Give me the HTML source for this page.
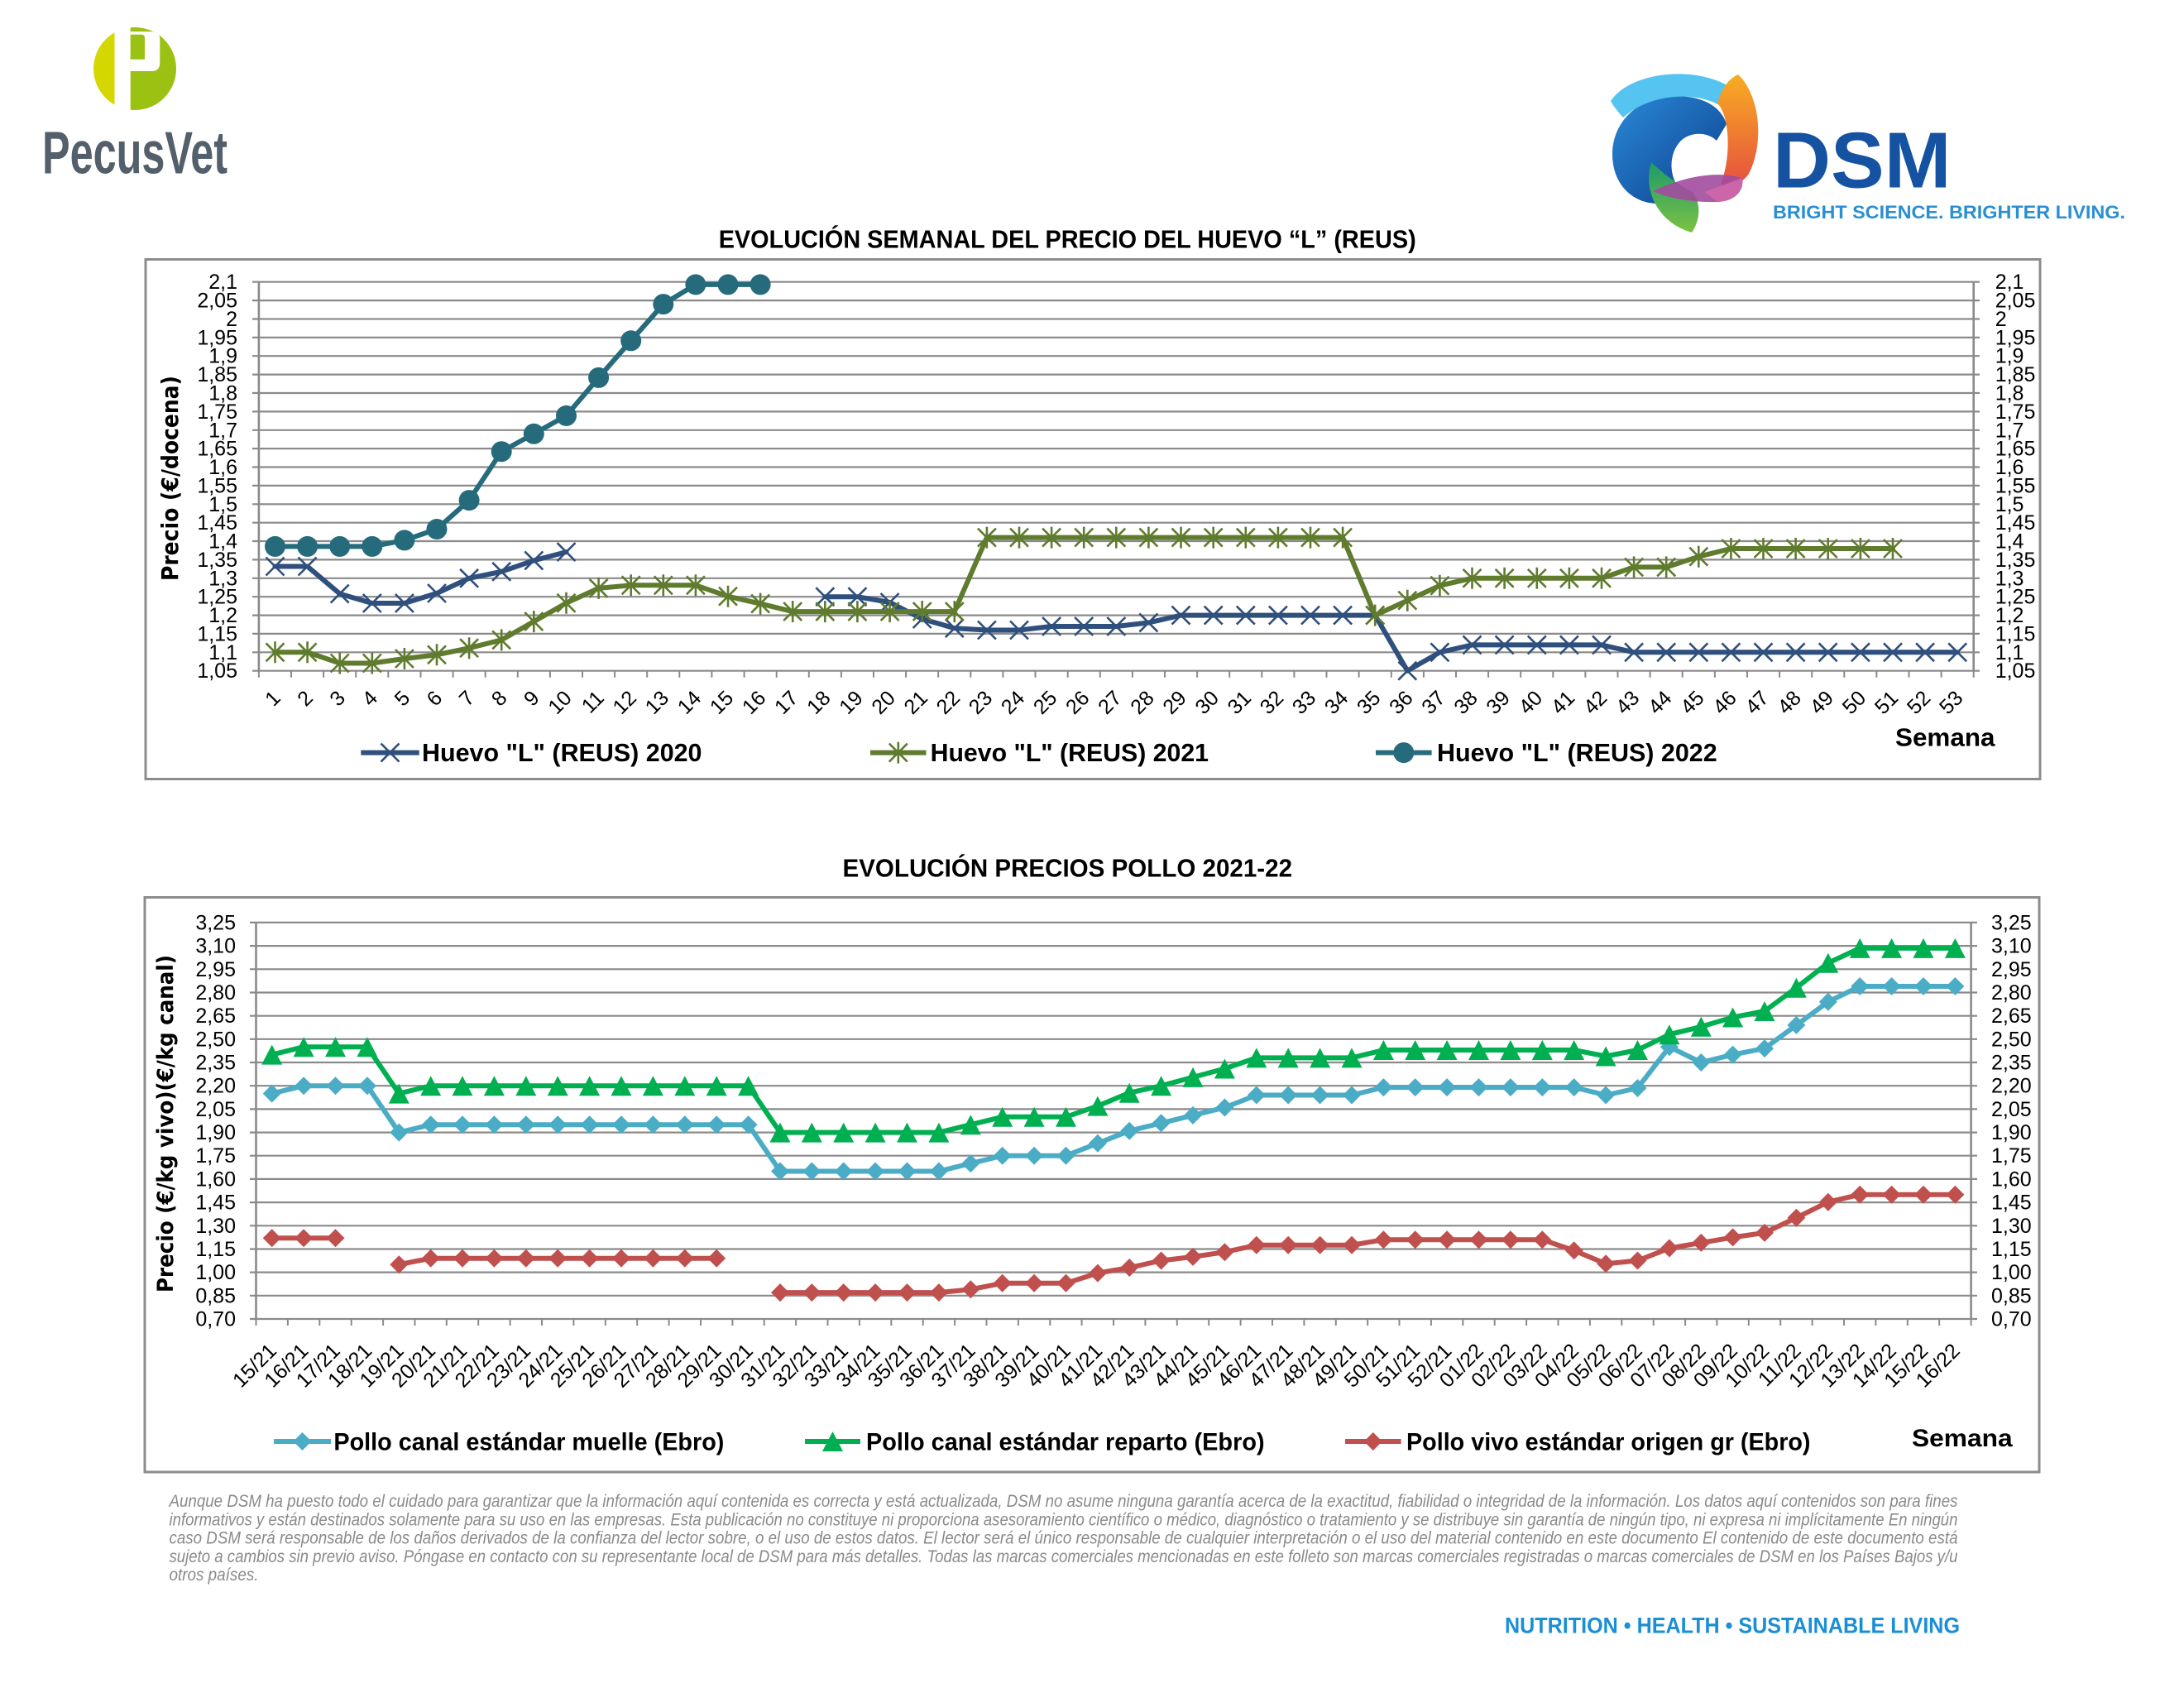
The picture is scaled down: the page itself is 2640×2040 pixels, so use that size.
<!DOCTYPE html>
<html>
<head>
<meta charset="utf-8">
<style>
html,body{margin:0;padding:0;background:#fff;}
svg{display:block;}
</style>
</head>
<body>
<svg xmlns="http://www.w3.org/2000/svg" width="2640" height="2040" viewBox="0 0 2640 2040">
<defs>
<marker id="mkX" markerUnits="userSpaceOnUse" markerWidth="30" markerHeight="30" refX="15" refY="15" viewBox="0 0 30 30" orient="0" overflow="visible"><path d="M4,4L26,26M4,26L26,4" stroke="#2f4f7d" stroke-width="2.6" fill="none"/></marker>
<marker id="mkA" markerUnits="userSpaceOnUse" markerWidth="30" markerHeight="30" refX="15" refY="15" viewBox="0 0 30 30" orient="0" overflow="visible"><path d="M4,4L26,26M4,26L26,4M15,2V28" stroke="#5f7b2d" stroke-width="2.6" fill="none"/></marker>
<marker id="mkC" markerUnits="userSpaceOnUse" markerWidth="30" markerHeight="30" refX="15" refY="15" viewBox="0 0 30 30" orient="0" overflow="visible"><circle cx="15" cy="15" r="12.5" fill="#266b7c"/></marker>
<marker id="mkD1" markerUnits="userSpaceOnUse" markerWidth="30" markerHeight="30" refX="15" refY="15" viewBox="0 0 30 30" orient="0" overflow="visible"><path d="M15,4L26,15L15,26L4,15Z" fill="#4bacc6"/></marker>
<marker id="mkT" markerUnits="userSpaceOnUse" markerWidth="30" markerHeight="30" refX="15" refY="15" viewBox="0 0 30 30" orient="0" overflow="visible"><path d="M15,3L27.5,27H2.5Z" fill="#00b050"/></marker>
<marker id="mkD2" markerUnits="userSpaceOnUse" markerWidth="30" markerHeight="30" refX="15" refY="15" viewBox="0 0 30 30" orient="0" overflow="visible"><path d="M15,4L26,15L15,26L4,15Z" fill="#c0504d"/></marker>
<clipPath id="pcClip"><circle cx="163" cy="83" r="50"/></clipPath>
<linearGradient id="gOr" x1="0" y1="0" x2="0" y2="1"><stop offset="0" stop-color="#f8ad22"/><stop offset="1" stop-color="#e6503f"/></linearGradient>
<linearGradient id="gBl" x1="0" y1="0" x2="1" y2="1"><stop offset="0" stop-color="#2a8ad8"/><stop offset="1" stop-color="#0c3f8c"/></linearGradient>
<linearGradient id="gGr" x1="0" y1="0" x2="0" y2="1"><stop offset="0" stop-color="#1c9a6a"/><stop offset="1" stop-color="#7cc242"/></linearGradient>
</defs>

<!-- PecusVet logo -->
<g clip-path="url(#pcClip)">
<rect x="110" y="30" width="28.5" height="110" fill="#d4d800"/>
<rect x="157.7" y="30" width="62" height="110" fill="#9bc112"/>
<path d="M157.7,38.3H184Q193.3,38.3 193.3,48V76Q193.3,86 183,86H157.7Z" fill="#fff"/>
<path d="M157.7,41.7H171Q175,41.7 175,46V71.7H157.7Z" fill="#9bc112"/>
</g>
<text x="51" y="209.3" font-family="Liberation Sans Narrow, Liberation Sans, sans-serif" font-weight="bold" font-size="72" fill="#535f6b" textLength="224" lengthAdjust="spacingAndGlyphs">PecusVet</text>

<!-- DSM logo -->
<path d="M2030,116C1985,113 1949,145 1949,186C1949,224 1975,247 2006,246L2030,228C2017,212 2017,185 2032,170C2045,158 2065,160 2075,170L2087,150C2080,128 2058,117 2030,116Z" fill="url(#gBl)"/>
<path d="M1947,122C1968,90 2038,78 2086,102L2086,132C2058,110 1998,110 1962,142C1955,134 1950,128 1947,122Z" fill="#55c4f0"/>
<path d="M2101,90C2126,113 2134,170 2114,210C2103,225 2090,228 2080,222C2093,190 2091,140 2076,125C2081,106 2090,95 2101,90Z" fill="url(#gOr)"/>
<path d="M1996,196C1985,232 2006,270 2045,281C2056,265 2056,245 2046,232C2031,225 2013,212 1996,196Z" fill="url(#gGr)"/>
<path d="M1998,231C2030,216 2070,205 2106,215C2109,231 2096,244 2075,244C2050,245 2020,241 1998,231Z" fill="#a24b9f" opacity="0.9"/>
<path d="M2060,232C2080,225 2098,218 2106,215C2108,230 2096,243 2076,244Z" fill="#d067a8" opacity="0.9"/>
<ellipse cx="2048" cy="191" rx="18" ry="22" fill="#fff"/>
<text x="2143" y="226.7" font-family="Liberation Sans, sans-serif" font-weight="bold" font-size="96" fill="#1553a2" textLength="215.5" lengthAdjust="spacingAndGlyphs">DSM</text>
<text x="2143" y="264" font-family="Liberation Sans Narrow, Liberation Sans, sans-serif" font-weight="bold" font-size="22" fill="#2a8fd2" textLength="426" lengthAdjust="spacingAndGlyphs">BRIGHT SCIENCE. BRIGHTER LIVING.</text>

<!-- ============ TOP CHART ============ -->
<text x="868.7" y="299.5" font-family="Liberation Sans Narrow, Liberation Sans, sans-serif" font-weight="bold" font-size="31" fill="#000" textLength="843" lengthAdjust="spacingAndGlyphs">EVOLUCIÓN SEMANAL DEL PRECIO DEL HUEVO “L” (REUS)</text>
<rect x="176" y="313.5" width="2290" height="628" fill="none" stroke="#8c8c8c" stroke-width="3"/>

<path fill="none" stroke="#8a8a8a" stroke-width="2.2" d="M305,340.7H2393M305,363.1H2393M305,385.5H2393M305,407.9H2393M305,430.2H2393M305,452.6H2393M305,475H2393M305,497.4H2393M305,519.8H2393M305,542.1H2393M305,564.5H2393M305,586.9H2393M305,609.3H2393M305,631.7H2393M305,654H2393M305,676.4H2393M305,698.8H2393M305,721.2H2393M305,743.6H2393M305,765.9H2393M305,788.3H2393M305,810.7H2393"/>
<path fill="none" stroke="#8a8a8a" stroke-width="2.6" d="M312.9,340.7V810.7M2385.7,340.7V810.7"/>
<path fill="none" stroke="#8a8a8a" stroke-width="2" d="M312.9,810.7v8M352,810.7v8M391.1,810.7v8M430.2,810.7v8M469.3,810.7v8M508.5,810.7v8M547.6,810.7v8M586.7,810.7v8M625.8,810.7v8M664.9,810.7v8M704,810.7v8M743.1,810.7v8M782.2,810.7v8M821.3,810.7v8M860.4,810.7v8M899.6,810.7v8M938.7,810.7v8M977.8,810.7v8M1016.9,810.7v8M1056,810.7v8M1095.1,810.7v8M1134.2,810.7v8M1173.3,810.7v8M1212.4,810.7v8M1251.5,810.7v8M1290.7,810.7v8M1329.8,810.7v8M1368.9,810.7v8M1408,810.7v8M1447.1,810.7v8M1486.2,810.7v8M1525.3,810.7v8M1564.4,810.7v8M1603.5,810.7v8M1642.6,810.7v8M1681.8,810.7v8M1720.9,810.7v8M1760,810.7v8M1799.1,810.7v8M1838.2,810.7v8M1877.3,810.7v8M1916.4,810.7v8M1955.5,810.7v8M1994.6,810.7v8M2033.7,810.7v8M2072.9,810.7v8M2112,810.7v8M2151.1,810.7v8M2190.2,810.7v8M2229.3,810.7v8M2268.4,810.7v8M2307.5,810.7v8M2346.6,810.7v8M2385.7,810.7v8"/>

<g font-family="Liberation Sans, sans-serif" font-size="25" fill="#000" text-anchor="end">
<text x="287" y="349.2">2,1</text><text x="287" y="371.6">2,05</text><text x="287" y="394">2</text><text x="287" y="416.4">1,95</text><text x="287" y="438.7">1,9</text><text x="287" y="461.1">1,85</text><text x="287" y="483.5">1,8</text><text x="287" y="505.9">1,75</text><text x="287" y="528.3">1,7</text><text x="287" y="550.6">1,65</text><text x="287" y="573">1,6</text><text x="287" y="595.4">1,55</text><text x="287" y="617.8">1,5</text><text x="287" y="640.2">1,45</text><text x="287" y="662.5">1,4</text><text x="287" y="684.9">1,35</text><text x="287" y="707.3">1,3</text><text x="287" y="729.7">1,25</text><text x="287" y="752.1">1,2</text><text x="287" y="774.4">1,15</text><text x="287" y="796.8">1,1</text><text x="287" y="819.2">1,05</text>
</g>
<g font-family="Liberation Sans, sans-serif" font-size="25" fill="#000" text-anchor="start">
<text x="2411.7" y="349.2">2,1</text><text x="2411.7" y="371.6">2,05</text><text x="2411.7" y="394">2</text><text x="2411.7" y="416.4">1,95</text><text x="2411.7" y="438.7">1,9</text><text x="2411.7" y="461.1">1,85</text><text x="2411.7" y="483.5">1,8</text><text x="2411.7" y="505.9">1,75</text><text x="2411.7" y="528.3">1,7</text><text x="2411.7" y="550.6">1,65</text><text x="2411.7" y="573">1,6</text><text x="2411.7" y="595.4">1,55</text><text x="2411.7" y="617.8">1,5</text><text x="2411.7" y="640.2">1,45</text><text x="2411.7" y="662.5">1,4</text><text x="2411.7" y="684.9">1,35</text><text x="2411.7" y="707.3">1,3</text><text x="2411.7" y="729.7">1,25</text><text x="2411.7" y="752.1">1,2</text><text x="2411.7" y="774.4">1,15</text><text x="2411.7" y="796.8">1,1</text><text x="2411.7" y="819.2">1,05</text>
</g>

<g font-family="Liberation Sans, sans-serif" font-size="25" fill="#000" text-anchor="end">
<text transform="translate(340.5,845) rotate(-45)">1</text><text transform="translate(379.6,845) rotate(-45)">2</text><text transform="translate(418.7,845) rotate(-45)">3</text><text transform="translate(457.8,845) rotate(-45)">4</text><text transform="translate(496.9,845) rotate(-45)">5</text><text transform="translate(536,845) rotate(-45)">6</text><text transform="translate(575.1,845) rotate(-45)">7</text><text transform="translate(614.2,845) rotate(-45)">8</text><text transform="translate(653.3,845) rotate(-45)">9</text><text transform="translate(692.5,845) rotate(-45)">10</text><text transform="translate(731.6,845) rotate(-45)">11</text><text transform="translate(770.7,845) rotate(-45)">12</text><text transform="translate(809.8,845) rotate(-45)">13</text><text transform="translate(848.9,845) rotate(-45)">14</text><text transform="translate(888,845) rotate(-45)">15</text><text transform="translate(927.1,845) rotate(-45)">16</text><text transform="translate(966.2,845) rotate(-45)">17</text><text transform="translate(1005.3,845) rotate(-45)">18</text><text transform="translate(1044.4,845) rotate(-45)">19</text><text transform="translate(1083.6,845) rotate(-45)">20</text><text transform="translate(1122.7,845) rotate(-45)">21</text><text transform="translate(1161.8,845) rotate(-45)">22</text><text transform="translate(1200.9,845) rotate(-45)">23</text><text transform="translate(1240,845) rotate(-45)">24</text><text transform="translate(1279.1,845) rotate(-45)">25</text><text transform="translate(1318.2,845) rotate(-45)">26</text><text transform="translate(1357.3,845) rotate(-45)">27</text><text transform="translate(1396.4,845) rotate(-45)">28</text><text transform="translate(1435.5,845) rotate(-45)">29</text><text transform="translate(1474.7,845) rotate(-45)">30</text><text transform="translate(1513.8,845) rotate(-45)">31</text><text transform="translate(1552.9,845) rotate(-45)">32</text><text transform="translate(1592,845) rotate(-45)">33</text><text transform="translate(1631.1,845) rotate(-45)">34</text><text transform="translate(1670.2,845) rotate(-45)">35</text><text transform="translate(1709.3,845) rotate(-45)">36</text><text transform="translate(1748.4,845) rotate(-45)">37</text><text transform="translate(1787.5,845) rotate(-45)">38</text><text transform="translate(1826.6,845) rotate(-45)">39</text><text transform="translate(1865.8,845) rotate(-45)">40</text><text transform="translate(1904.9,845) rotate(-45)">41</text><text transform="translate(1944,845) rotate(-45)">42</text><text transform="translate(1983.1,845) rotate(-45)">43</text><text transform="translate(2022.2,845) rotate(-45)">44</text><text transform="translate(2061.3,845) rotate(-45)">45</text><text transform="translate(2100.4,845) rotate(-45)">46</text><text transform="translate(2139.5,845) rotate(-45)">47</text><text transform="translate(2178.6,845) rotate(-45)">48</text><text transform="translate(2217.7,845) rotate(-45)">49</text><text transform="translate(2256.9,845) rotate(-45)">50</text><text transform="translate(2296,845) rotate(-45)">51</text><text transform="translate(2335.1,845) rotate(-45)">52</text><text transform="translate(2374.2,845) rotate(-45)">53</text>
</g>

<text transform="translate(215,578) rotate(-90)" text-anchor="middle" font-family="DejaVu Sans, Liberation Sans, sans-serif" font-weight="bold" font-size="28" fill="#000" textLength="248" lengthAdjust="spacingAndGlyphs">Precio (€/docena)</text>

<!-- series top -->
<g fill="none" stroke-width="6" stroke-linejoin="round" stroke-linecap="round">
<polyline stroke="#2f4f7d" marker-start="url(#mkX)" marker-mid="url(#mkX)" marker-end="url(#mkX)" points="332.5,684.5 371.6,684.5 410.7,717.6 449.8,729 488.9,729 528,717 567.1,698.8 606.2,690.8 645.3,677.4 684.5,667.1"/>
<polyline stroke="#2f4f7d" marker-start="url(#mkX)" marker-mid="url(#mkX)" marker-end="url(#mkX)" points="997.3,721.2 1036.4,721.2 1075.6,728 1114.7,748 1153.8,759.2 1192.9,761.5 1232,761.5 1271.1,757 1310.2,757 1349.3,757 1388.4,752.5 1427.5,743.6 1466.7,743.6 1505.8,743.6 1544.9,743.6 1584,743.6 1623.1,743.6 1662.2,743.6 1701.3,810.7 1740.4,788.3 1779.5,779.4 1818.6,779.4 1857.8,779.4 1896.9,779.4 1936,779.4 1975.1,788.3 2014.2,788.3 2053.3,788.3 2092.4,788.3 2131.5,788.3 2170.6,788.3 2209.7,788.3 2248.9,788.3 2288,788.3 2327.1,788.3 2366.2,788.3"/>
<polyline stroke="#5f7b2d" marker-start="url(#mkA)" marker-mid="url(#mkA)" marker-end="url(#mkA)" points="332.5,788.3 371.6,788.3 410.7,801.5 449.8,801.5 488.9,796 528,791.3 567.1,783.2 606.2,773.4 645.3,751.1 684.5,728.8 723.6,710.9 762.7,707.3 801.8,707.3 840.9,707.3 880,720.7 919.1,729.6 958.2,739.1 997.3,739.1 1036.4,739.1 1075.6,739.1 1114.7,739.1 1153.8,739.1 1192.9,649.6 1232,649.6 1271.1,649.6 1310.2,649.6 1349.3,649.6 1388.4,649.6 1427.5,649.6 1466.7,649.6 1505.8,649.6 1544.9,649.6 1584,649.6 1623.1,649.6 1662.2,743.6 1701.3,725.7 1740.4,707.7 1779.5,698.8 1818.6,698.8 1857.8,698.8 1896.9,698.8 1936,698.8 1975.1,685.4 2014.2,685.4 2053.3,672.7 2092.4,663 2131.5,663 2170.6,663 2209.7,663 2248.9,663 2288,663"/>
<polyline stroke="#266b7c" marker-start="url(#mkC)" marker-mid="url(#mkC)" marker-end="url(#mkC)" points="332.5,660.4 371.6,660.4 410.7,660.4 449.8,660.4 488.9,652.9 528,639.5 567.1,604.6 606.2,545.7 645.3,524.3 684.5,502.4 723.6,456.4 762.7,411.8 801.8,367.6 840.9,343.9 880,343.9 919.1,343.9"/>
</g>

<!-- legend top -->
<g fill="none" stroke-width="6">
<polyline stroke="#2f4f7d" marker-mid="url(#mkX)" points="436.3,909.6 471.5,909.6 506.7,909.6"/>
<polyline stroke="#5f7b2d" marker-mid="url(#mkA)" points="1052,909.6 1085.8,909.6 1119.5,909.6"/>
<polyline stroke="#266b7c" marker-mid="url(#mkC)" points="1663,909.6 1696.8,909.6 1730.6,909.6"/>
</g>
<g font-family="Liberation Sans Narrow, Liberation Sans, sans-serif" font-weight="bold" font-size="31" fill="#000">
<text x="510" y="919.8" textLength="338.5" lengthAdjust="spacingAndGlyphs">Huevo "L" (REUS) 2020</text>
<text x="1124.6" y="919.8" textLength="336.4" lengthAdjust="spacingAndGlyphs">Huevo "L" (REUS) 2021</text>
<text x="1737" y="919.8" textLength="338.7" lengthAdjust="spacingAndGlyphs">Huevo "L" (REUS) 2022</text>
<text x="2291" y="901.7" textLength="120.5" lengthAdjust="spacingAndGlyphs">Semana</text>
</g>

<!-- ============ BOTTOM CHART ============ -->
<text x="1018.5" y="1059.7" font-family="Liberation Sans Narrow, Liberation Sans, sans-serif" font-weight="bold" font-size="31" fill="#000" textLength="543.5" lengthAdjust="spacingAndGlyphs">EVOLUCIÓN PRECIOS POLLO 2021-22</text>
<rect x="175" y="1084.5" width="2290" height="694.5" fill="none" stroke="#8c8c8c" stroke-width="3"/>

<path fill="none" stroke="#8a8a8a" stroke-width="2.2" d="M302,1114.9H2390M302,1143.1H2390M302,1171.3H2390M302,1199.5H2390M302,1227.7H2390M302,1255.8H2390M302,1284H2390M302,1312.2H2390M302,1340.4H2390M302,1368.6H2390M302,1396.7H2390M302,1424.9H2390M302,1453.1H2390M302,1481.3H2390M302,1509.5H2390M302,1537.6H2390M302,1565.8H2390M302,1594H2390"/>
<path fill="none" stroke="#8a8a8a" stroke-width="2.6" d="M309.5,1114.9V1594M2382.6,1114.9V1594"/>
<path fill="none" stroke="#8a8a8a" stroke-width="2" d="M309.5,1594v8M347.9,1594v8M386.3,1594v8M424.7,1594v8M463.1,1594v8M501.5,1594v8M539.8,1594v8M578.2,1594v8M616.6,1594v8M655,1594v8M693.4,1594v8M731.8,1594v8M770.2,1594v8M808.6,1594v8M847,1594v8M885.4,1594v8M923.7,1594v8M962.1,1594v8M1000.5,1594v8M1038.9,1594v8M1077.3,1594v8M1115.7,1594v8M1154.1,1594v8M1192.5,1594v8M1230.9,1594v8M1269.3,1594v8M1307.6,1594v8M1346,1594v8M1384.4,1594v8M1422.8,1594v8M1461.2,1594v8M1499.6,1594v8M1538,1594v8M1576.4,1594v8M1614.8,1594v8M1653.2,1594v8M1691.5,1594v8M1729.9,1594v8M1768.3,1594v8M1806.7,1594v8M1845.1,1594v8M1883.5,1594v8M1921.9,1594v8M1960.3,1594v8M1998.7,1594v8M2037.1,1594v8M2075.4,1594v8M2113.8,1594v8M2152.2,1594v8M2190.6,1594v8M2229,1594v8M2267.4,1594v8M2305.8,1594v8M2344.2,1594v8M2382.6,1594v8"/>

<g font-family="Liberation Sans, sans-serif" font-size="25" fill="#000" text-anchor="end">
<text x="285" y="1123.4">3,25</text><text x="285" y="1151.6">3,10</text><text x="285" y="1179.8">2,95</text><text x="285" y="1208">2,80</text><text x="285" y="1236.2">2,65</text><text x="285" y="1264.3">2,50</text><text x="285" y="1292.5">2,35</text><text x="285" y="1320.7">2,20</text><text x="285" y="1348.9">2,05</text><text x="285" y="1377.1">1,90</text><text x="285" y="1405.2">1,75</text><text x="285" y="1433.4">1,60</text><text x="285" y="1461.6">1,45</text><text x="285" y="1489.8">1,30</text><text x="285" y="1518">1,15</text><text x="285" y="1546.1">1,00</text><text x="285" y="1574.3">0,85</text><text x="285" y="1602.5">0,70</text>
</g>
<g font-family="Liberation Sans, sans-serif" font-size="25" fill="#000" text-anchor="start">
<text x="2407" y="1123.4">3,25</text><text x="2407" y="1151.6">3,10</text><text x="2407" y="1179.8">2,95</text><text x="2407" y="1208">2,80</text><text x="2407" y="1236.2">2,65</text><text x="2407" y="1264.3">2,50</text><text x="2407" y="1292.5">2,35</text><text x="2407" y="1320.7">2,20</text><text x="2407" y="1348.9">2,05</text><text x="2407" y="1377.1">1,90</text><text x="2407" y="1405.2">1,75</text><text x="2407" y="1433.4">1,60</text><text x="2407" y="1461.6">1,45</text><text x="2407" y="1489.8">1,30</text><text x="2407" y="1518">1,15</text><text x="2407" y="1546.1">1,00</text><text x="2407" y="1574.3">0,85</text><text x="2407" y="1602.5">0,70</text>
</g>

<g font-family="Liberation Sans, sans-serif" font-size="25" fill="#000" text-anchor="end">
<text transform="translate(335.7,1634) rotate(-45)">15/21</text><text transform="translate(374.1,1634) rotate(-45)">16/21</text><text transform="translate(412.5,1634) rotate(-45)">17/21</text><text transform="translate(450.9,1634) rotate(-45)">18/21</text><text transform="translate(489.3,1634) rotate(-45)">19/21</text><text transform="translate(527.7,1634) rotate(-45)">20/21</text><text transform="translate(566,1634) rotate(-45)">21/21</text><text transform="translate(604.4,1634) rotate(-45)">22/21</text><text transform="translate(642.8,1634) rotate(-45)">23/21</text><text transform="translate(681.2,1634) rotate(-45)">24/21</text><text transform="translate(719.6,1634) rotate(-45)">25/21</text><text transform="translate(758,1634) rotate(-45)">26/21</text><text transform="translate(796.4,1634) rotate(-45)">27/21</text><text transform="translate(834.8,1634) rotate(-45)">28/21</text><text transform="translate(873.2,1634) rotate(-45)">29/21</text><text transform="translate(911.6,1634) rotate(-45)">30/21</text><text transform="translate(950,1634) rotate(-45)">31/21</text><text transform="translate(988.3,1634) rotate(-45)">32/21</text><text transform="translate(1026.7,1634) rotate(-45)">33/21</text><text transform="translate(1065.1,1634) rotate(-45)">34/21</text><text transform="translate(1103.5,1634) rotate(-45)">35/21</text><text transform="translate(1141.9,1634) rotate(-45)">36/21</text><text transform="translate(1180.3,1634) rotate(-45)">37/21</text><text transform="translate(1218.7,1634) rotate(-45)">38/21</text><text transform="translate(1257.1,1634) rotate(-45)">39/21</text><text transform="translate(1295.5,1634) rotate(-45)">40/21</text><text transform="translate(1333.9,1634) rotate(-45)">41/21</text><text transform="translate(1372.2,1634) rotate(-45)">42/21</text><text transform="translate(1410.6,1634) rotate(-45)">43/21</text><text transform="translate(1449,1634) rotate(-45)">44/21</text><text transform="translate(1487.4,1634) rotate(-45)">45/21</text><text transform="translate(1525.8,1634) rotate(-45)">46/21</text><text transform="translate(1564.2,1634) rotate(-45)">47/21</text><text transform="translate(1602.6,1634) rotate(-45)">48/21</text><text transform="translate(1641,1634) rotate(-45)">49/21</text><text transform="translate(1679.4,1634) rotate(-45)">50/21</text><text transform="translate(1717.7,1634) rotate(-45)">51/21</text><text transform="translate(1756.1,1634) rotate(-45)">52/21</text><text transform="translate(1794.5,1634) rotate(-45)">01/22</text><text transform="translate(1832.9,1634) rotate(-45)">02/22</text><text transform="translate(1871.3,1634) rotate(-45)">03/22</text><text transform="translate(1909.7,1634) rotate(-45)">04/22</text><text transform="translate(1948.1,1634) rotate(-45)">05/22</text><text transform="translate(1986.5,1634) rotate(-45)">06/22</text><text transform="translate(2024.9,1634) rotate(-45)">07/22</text><text transform="translate(2063.3,1634) rotate(-45)">08/22</text><text transform="translate(2101.6,1634) rotate(-45)">09/22</text><text transform="translate(2140,1634) rotate(-45)">10/22</text><text transform="translate(2178.4,1634) rotate(-45)">11/22</text><text transform="translate(2216.8,1634) rotate(-45)">12/22</text><text transform="translate(2255.2,1634) rotate(-45)">13/22</text><text transform="translate(2293.6,1634) rotate(-45)">14/22</text><text transform="translate(2332,1634) rotate(-45)">15/22</text><text transform="translate(2370.4,1634) rotate(-45)">16/22</text>
</g>

<text transform="translate(209,1358) rotate(-90)" text-anchor="middle" font-family="DejaVu Sans, Liberation Sans, sans-serif" font-weight="bold" font-size="27" fill="#000" textLength="408" lengthAdjust="spacingAndGlyphs">Precio (€/kg vivo)(€/kg canal)</text>

<!-- series bottom -->
<g fill="none" stroke-width="6" stroke-linejoin="round" stroke-linecap="round">
<polyline stroke="#4bacc6" marker-start="url(#mkD1)" marker-mid="url(#mkD1)" marker-end="url(#mkD1)" points="328.7,1321.6 367.1,1312.2 405.5,1312.2 443.9,1312.2 482.3,1368.6 520.7,1359.2 559,1359.2 597.4,1359.2 635.8,1359.2 674.2,1359.2 712.6,1359.2 751,1359.2 789.4,1359.2 827.8,1359.2 866.2,1359.2 904.6,1359.2 943,1415.5 981.3,1415.5 1019.7,1415.5 1058.1,1415.5 1096.5,1415.5 1134.9,1415.5 1173.3,1406.1 1211.7,1396.7 1250.1,1396.7 1288.5,1396.7 1326.9,1381.7 1365.2,1366.7 1403.6,1357.3 1442,1347.9 1480.4,1338.5 1518.8,1323.5 1557.2,1323.5 1595.6,1323.5 1634,1323.5 1672.4,1314.1 1710.7,1314.1 1749.1,1314.1 1787.5,1314.1 1825.9,1314.1 1864.3,1314.1 1902.7,1314.1 1941.1,1323.5 1979.5,1315 2017.9,1265.2 2056.3,1284 2094.6,1274.6 2133,1267.1 2171.4,1238.9 2209.8,1210.7 2248.2,1192 2286.6,1192 2325,1192 2363.4,1192"/>
<polyline stroke="#00b050" marker-start="url(#mkT)" marker-mid="url(#mkT)" marker-end="url(#mkT)" points="328.7,1274.6 367.1,1265.2 405.5,1265.2 443.9,1265.2 482.3,1321.6 520.7,1312.2 559,1312.2 597.4,1312.2 635.8,1312.2 674.2,1312.2 712.6,1312.2 751,1312.2 789.4,1312.2 827.8,1312.2 866.2,1312.2 904.6,1312.2 943,1368.6 981.3,1368.6 1019.7,1368.6 1058.1,1368.6 1096.5,1368.6 1134.9,1368.6 1173.3,1359.2 1211.7,1349.8 1250.1,1349.8 1288.5,1349.8 1326.9,1336.6 1365.2,1320.7 1403.6,1312.2 1442,1301.9 1480.4,1291.5 1518.8,1278.4 1557.2,1278.4 1595.6,1278.4 1634,1278.4 1672.4,1269 1710.7,1269 1749.1,1269 1787.5,1269 1825.9,1269 1864.3,1269 1902.7,1269 1941.1,1276.5 1979.5,1269 2017.9,1250.2 2056.3,1240.8 2094.6,1229.5 2133,1222 2171.4,1193.8 2209.8,1163.8 2248.2,1145.9 2286.6,1145.9 2325,1145.9 2363.4,1145.9"/>
<polyline stroke="#c0504d" marker-start="url(#mkD2)" marker-mid="url(#mkD2)" marker-end="url(#mkD2)" points="328.7,1496.3 367.1,1496.3 405.5,1496.3"/>
<polyline stroke="#c0504d" marker-start="url(#mkD2)" marker-mid="url(#mkD2)" marker-end="url(#mkD2)" points="482.3,1528.2 520.7,1520.7 559,1520.7 597.4,1520.7 635.8,1520.7 674.2,1520.7 712.6,1520.7 751,1520.7 789.4,1520.7 827.8,1520.7 866.2,1520.7"/>
<polyline stroke="#c0504d" marker-start="url(#mkD2)" marker-mid="url(#mkD2)" marker-end="url(#mkD2)" points="943,1562.1 981.3,1562.1 1019.7,1562.1 1058.1,1562.1 1096.5,1562.1 1134.9,1562.1 1173.3,1558.3 1211.7,1550.8 1250.1,1550.8 1288.5,1550.8 1326.9,1538.6 1365.2,1532 1403.6,1523.5 1442,1518.9 1480.4,1513.2 1518.8,1504.8 1557.2,1504.8 1595.6,1504.8 1634,1504.8 1672.4,1498.2 1710.7,1498.2 1749.1,1498.2 1787.5,1498.2 1825.9,1498.2 1864.3,1498.2 1902.7,1511.3 1941.1,1527.3 1979.5,1523.5 2017.9,1508.5 2056.3,1501.9 2094.6,1495.4 2133,1489.9 2171.4,1471.7 2209.8,1452.7 2248.2,1443.7 2286.6,1443.7 2325,1443.7 2363.4,1443.7"/>
</g>

<!-- legend bottom -->
<g fill="none" stroke-width="6">
<polyline stroke="#4bacc6" marker-mid="url(#mkD1)" points="331,1742 365.5,1742 400,1742"/>
<polyline stroke="#00b050" marker-mid="url(#mkT)" points="973,1742 1006.5,1742 1040,1742"/>
<polyline stroke="#c0504d" marker-mid="url(#mkD2)" points="1626,1742 1659.8,1742 1693.6,1742"/>
</g>
<g font-family="Liberation Sans Narrow, Liberation Sans, sans-serif" font-weight="bold" font-size="30" fill="#000">
<text x="403.4" y="1752.6" textLength="472" lengthAdjust="spacingAndGlyphs">Pollo canal estándar muelle (Ebro)</text>
<text x="1047" y="1752.6" textLength="481.6" lengthAdjust="spacingAndGlyphs">Pollo canal estándar reparto (Ebro)</text>
<text x="1700" y="1752.6" textLength="488.5" lengthAdjust="spacingAndGlyphs">Pollo vivo estándar origen gr (Ebro)</text>
<text x="2311" y="1748" textLength="121.6" lengthAdjust="spacingAndGlyphs">Semana</text>
</g>

<!-- footer disclaimer -->
<g font-family="Liberation Sans, sans-serif" font-style="italic" font-size="21" fill="#8a8a8a">
<text x="204.5" y="1821" textLength="2162" lengthAdjust="spacingAndGlyphs">Aunque DSM ha puesto todo el cuidado para garantizar que la información aquí contenida es correcta y está actualizada, DSM no asume ninguna garantía acerca de la exactitud, fiabilidad o integridad de la información. Los datos aquí contenidos son para fines</text>
<text x="204.5" y="1843.3" textLength="2162" lengthAdjust="spacingAndGlyphs">informativos y están destinados solamente para su uso en las empresas. Esta publicación no constituye ni proporciona asesoramiento científico o médico, diagnóstico o tratamiento y se distribuye sin garantía de ningún tipo, ni expresa ni implícitamente En ningún</text>
<text x="204.5" y="1865.6" textLength="2162" lengthAdjust="spacingAndGlyphs">caso DSM será responsable de los daños derivados de la confianza del lector sobre, o el uso de estos datos. El lector será el único responsable de cualquier interpretación o el uso del material contenido en este documento El contenido de este documento está</text>
<text x="204.5" y="1887.9" textLength="2162" lengthAdjust="spacingAndGlyphs">sujeto a cambios sin previo aviso. Póngase en contacto con su representante local de DSM para más detalles. Todas las marcas comerciales mencionadas en este folleto son marcas comerciales registradas o marcas comerciales de DSM en los Países Bajos y/u</text>
<text x="204.5" y="1910.2" textLength="108" lengthAdjust="spacingAndGlyphs">otros países.</text>
</g>

<text x="1819" y="1973.3" font-family="Liberation Sans Narrow, Liberation Sans, sans-serif" font-weight="bold" font-size="27" fill="#1a8fd4" textLength="550" lengthAdjust="spacingAndGlyphs">NUTRITION  •  HEALTH  •  SUSTAINABLE LIVING</text>
</svg>
</body>
</html>
